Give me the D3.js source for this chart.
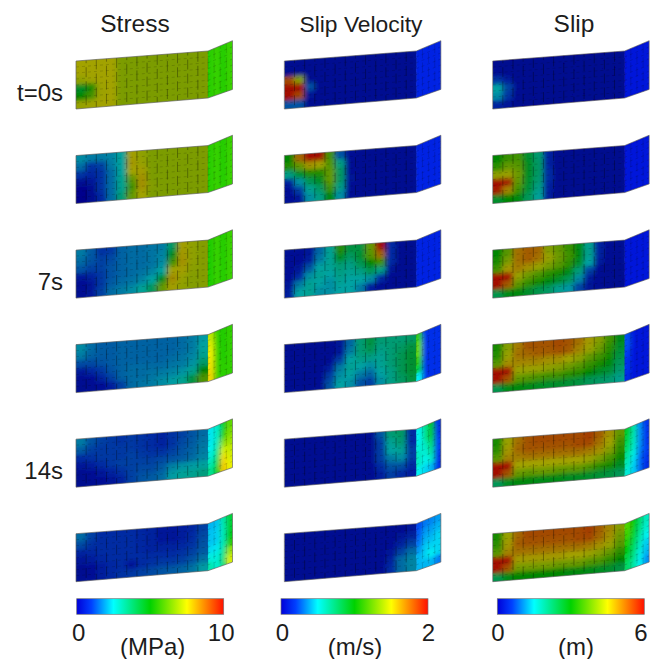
<!DOCTYPE html>
<meta charset="utf-8">
<style>
  body { margin: 0; background: #fff; }
  text { font-family: "Liberation Sans", Arial, sans-serif; fill: #1c1c1c; }
</style>

<!-- Load d3.js -->
<script src="https://d3js.org/d3.v7.min.js"></script>

<div id="my_dataviz"></div>

<script>

// column titles, row labels, colour bars
var titles = ["Stress", "Slip Velocity", "Slip"];
var units = ["(MPa)", "(m/s)", "(m)"];
var maxValues = [10, 2, 6];
var timeLabels = ["t=0s", "", "7s", "", "14s", ""];

// fault values, 6 rows down-dip, 17 columns along strike (13 main face + 4 bend face)
// stress, MPa
var stressT0 = [
  [7.5,7.5,7.5,7.5,6.9,6.9,6.9,6.9,6.9,6.9,6.9,6.9,6.9,5.4,5.6,5.3,5.6],
  [7.5,7.5,7.5,7.5,6.9,6.9,6.9,6.9,6.9,6.9,6.9,6.9,6.9,5.4,5.6,5.3,5.6],
  [7.2,7.4,7.5,7.5,6.9,6.9,6.9,6.9,6.9,6.9,6.9,6.9,6.9,5.4,5.6,5.3,5.6],
  [4.4,5.4,7.4,7.5,6.9,6.9,6.9,6.9,6.9,6.9,6.9,6.9,6.9,5.4,5.6,5.3,5.6],
  [5.0,6.0,7.4,7.5,6.9,6.9,6.9,6.9,6.9,6.9,6.9,6.9,6.9,5.4,5.6,5.3,5.6],
  [7.3,7.4,7.5,7.5,6.9,6.9,6.9,6.9,6.9,6.9,6.9,6.9,6.9,5.4,5.6,5.3,5.6]
];
var stressT1 = [
  [2.2,2.0,2.0,2.1,2.6,7.6,7.2,6.9,6.9,6.9,6.9,6.9,6.9,5.4,5.6,5.3,5.6],
  [1.8,1.1,1.3,2.0,2.6,7.7,7.3,6.9,6.9,6.9,6.9,6.9,6.9,5.4,5.6,5.3,5.6],
  [1.1,0.9,1.1,1.8,2.6,7.5,7.6,6.9,6.9,6.9,6.9,6.9,6.9,5.4,5.6,5.3,5.6],
  [0.3,0.5,1.1,1.8,2.8,6.5,7.8,6.9,6.9,6.9,6.9,6.9,6.9,5.4,5.6,5.3,5.6],
  [0.1,0.2,1.1,1.8,2.8,6.0,7.8,7.0,6.9,6.9,6.9,6.9,6.9,5.4,5.6,5.3,5.6],
  [0.0,0.2,0.9,1.8,3.2,6.5,7.5,6.9,6.9,6.9,6.9,6.9,6.9,5.4,5.6,5.3,5.6]
];
var stressT2 = [
  [2.0,1.6,1.1,1.2,1.7,1.8,1.8,1.9,2.0,3.5,7.6,7.2,7.0,5.3,5.6,5.3,5.6],
  [1.8,1.5,1.3,1.4,1.7,1.8,1.8,1.9,2.1,4.5,7.7,7.2,7.0,5.3,5.6,5.3,5.6],
  [1.5,1.3,1.3,1.5,1.7,1.8,1.8,1.9,2.2,6.0,7.8,7.2,7.0,5.3,5.6,5.3,5.6],
  [0.6,0.8,1.2,1.5,1.7,1.8,1.9,2.1,2.6,7.5,7.6,7.1,7.0,5.3,5.6,5.3,5.6],
  [0.3,0.5,1.2,1.6,1.8,1.9,2.1,2.5,4.5,7.9,7.3,7.0,7.0,5.3,5.6,5.3,5.6],
  [0.3,0.6,1.3,1.8,2.0,2.2,2.7,3.6,6.5,7.6,7.2,7.0,7.0,5.3,5.6,5.3,5.6]
];
var stressT3 = [
  [2.2,1.8,1.6,1.6,1.7,1.7,1.7,1.7,1.7,1.7,1.8,2.0,2.4,7.0,5.5,5.3,5.5],
  [2.0,1.7,1.6,1.6,1.7,1.7,1.7,1.7,1.7,1.7,1.8,2.0,2.6,7.3,5.5,5.3,5.5],
  [1.4,1.4,1.5,1.6,1.7,1.7,1.7,1.7,1.7,1.8,1.9,2.1,2.8,7.5,5.6,5.3,5.5],
  [0.6,0.9,1.2,1.5,1.7,1.8,1.8,1.8,1.8,1.9,2.0,2.3,3.4,7.6,5.6,5.3,5.5],
  [0.3,0.4,0.8,1.3,1.7,1.8,1.8,1.9,2.0,2.1,2.3,2.8,5.0,7.7,5.6,5.4,5.5],
  [0.2,0.3,0.4,0.7,1.3,1.8,1.9,2.0,2.2,2.4,2.8,4.0,6.2,7.8,5.6,5.4,5.5]
];
var stressT4 = [
  [2.0,1.5,1.3,1.2,1.1,1.2,1.1,1.0,0.8,1.1,1.3,1.5,1.8,2.4,2.9,4.6,6.0],
  [1.6,1.3,1.2,1.2,1.2,1.2,1.1,1.0,0.8,1.1,1.4,1.6,1.9,2.4,3.0,5.4,6.3],
  [1.0,1.1,1.2,1.2,1.2,1.3,1.2,1.1,1.1,1.3,1.5,1.7,2.0,2.5,3.2,6.4,6.6],
  [0.5,0.7,1.0,1.2,1.3,1.3,1.3,1.3,1.4,1.5,1.6,1.8,2.1,2.7,3.6,7.2,7.0],
  [0.2,0.4,0.6,0.8,1.1,1.3,1.4,1.4,1.6,2.1,2.3,2.4,2.6,3.1,4.0,7.8,7.2],
  [0.2,0.3,0.4,0.5,0.8,1.3,1.5,1.6,1.8,2.4,2.7,2.8,3.1,3.5,4.6,8.0,7.4]
];
var stressT5 = [
  [1.8,1.3,1.0,1.0,1.0,1.0,0.9,0.8,0.6,0.6,0.7,0.9,1.3,2.0,2.1,3.2,4.4],
  [1.4,1.1,1.0,1.0,1.0,1.0,0.9,0.8,0.6,0.5,0.7,1.0,1.4,2.1,2.2,3.1,4.5],
  [0.8,0.9,1.0,1.0,1.0,1.0,0.9,0.8,0.8,0.8,0.9,1.1,1.5,2.1,2.2,3.1,4.8],
  [0.5,0.7,0.9,1.0,1.0,1.0,1.0,1.0,1.0,1.0,1.1,1.3,1.6,2.3,2.4,3.2,5.4],
  [0.2,0.4,0.7,0.9,1.0,0.6,1.0,1.1,1.2,1.2,1.3,1.5,1.9,2.7,2.7,3.5,6.6],
  [0.3,0.4,0.7,0.9,1.1,1.2,1.3,1.4,1.5,1.6,1.7,1.9,2.4,3.2,2.8,3.8,7.2]
];

// slip velocity, m/s
var velocityT0 = [
  [0.05,0.05,0.05,0.05,0.05,0.05,0.05,0.05,0.05,0.05,0.05,0.05,0.05,0.12,0.12,0.12,0.12],
  [0.05,0.05,0.05,0.05,0.05,0.05,0.05,0.05,0.05,0.05,0.05,0.05,0.05,0.12,0.12,0.12,0.12],
  [1.80,1.40,0.05,0.05,0.05,0.05,0.05,0.05,0.05,0.05,0.05,0.05,0.05,0.12,0.12,0.12,0.12],
  [2.00,2.00,0.30,0.05,0.05,0.05,0.05,0.05,0.05,0.05,0.05,0.05,0.05,0.12,0.12,0.12,0.12],
  [2.00,1.80,0.10,0.05,0.05,0.05,0.05,0.05,0.05,0.05,0.05,0.05,0.05,0.12,0.12,0.12,0.12],
  [0.30,0.30,0.05,0.05,0.05,0.05,0.05,0.05,0.05,0.05,0.05,0.05,0.05,0.12,0.12,0.12,0.12]
];
var velocityT1 = [
  [1.00,1.70,2.00,2.00,1.20,0.30,0.08,0.05,0.05,0.05,0.05,0.05,0.05,0.12,0.12,0.12,0.12],
  [1.10,1.30,1.55,1.50,1.25,0.60,0.08,0.05,0.05,0.05,0.05,0.05,0.05,0.12,0.12,0.12,0.12],
  [0.60,0.85,1.10,1.10,1.30,0.70,0.08,0.05,0.05,0.05,0.05,0.05,0.05,0.12,0.12,0.12,0.12],
  [0.15,0.45,0.75,0.90,1.30,0.70,0.12,0.05,0.05,0.05,0.05,0.05,0.05,0.12,0.12,0.12,0.12],
  [0.08,0.25,0.55,0.70,1.20,0.60,0.08,0.05,0.05,0.05,0.05,0.05,0.05,0.12,0.12,0.12,0.12],
  [0.08,0.12,0.45,0.60,1.00,0.45,0.08,0.05,0.05,0.05,0.05,0.05,0.05,0.12,0.12,0.12,0.12]
];
var velocityT2 = [
  [0.08,0.08,0.12,0.35,0.55,1.10,0.80,0.80,1.30,2.00,0.20,0.05,0.05,0.12,0.12,0.12,0.12],
  [0.08,0.08,0.15,0.40,0.55,0.90,0.70,0.85,1.25,1.70,0.20,0.05,0.05,0.12,0.12,0.12,0.12],
  [0.08,0.12,0.30,0.50,0.55,0.65,0.60,0.75,1.00,1.20,0.20,0.05,0.05,0.12,0.12,0.12,0.12],
  [0.08,0.20,0.45,0.55,0.50,0.60,0.55,0.60,0.75,0.60,0.10,0.05,0.05,0.12,0.12,0.12,0.12],
  [0.10,0.40,0.55,0.50,0.45,0.55,0.50,0.50,0.45,0.20,0.06,0.05,0.05,0.12,0.12,0.12,0.12],
  [0.15,0.50,0.55,0.45,0.45,0.50,0.50,0.40,0.15,0.08,0.05,0.05,0.05,0.12,0.12,0.12,0.12]
];
var velocityT3 = [
  [0.05,0.05,0.05,0.05,0.05,0.10,0.35,0.65,0.80,0.65,0.65,0.65,0.70,1.10,0.15,0.15,0.15],
  [0.05,0.05,0.05,0.05,0.05,0.12,0.40,0.65,0.75,0.60,0.65,0.70,0.80,1.20,0.15,0.15,0.15],
  [0.05,0.05,0.05,0.05,0.08,0.25,0.50,0.60,0.60,0.55,0.65,0.75,0.85,1.20,0.15,0.15,0.15],
  [0.05,0.05,0.05,0.05,0.15,0.40,0.55,0.50,0.45,0.55,0.65,0.75,0.85,1.10,0.15,0.15,0.15],
  [0.05,0.05,0.05,0.08,0.25,0.45,0.50,0.40,0.35,0.50,0.60,0.75,0.85,0.90,0.15,0.15,0.15],
  [0.05,0.05,0.05,0.08,0.30,0.50,0.45,0.30,0.25,0.45,0.60,0.70,0.80,0.50,0.15,0.15,0.15]
];
var velocityT4 = [
  [0.05,0.05,0.05,0.05,0.05,0.05,0.05,0.05,0.05,0.30,0.65,0.70,0.20,0.50,0.70,1.00,0.15],
  [0.05,0.05,0.05,0.05,0.05,0.05,0.05,0.05,0.05,0.25,0.55,0.65,0.20,0.50,0.70,0.95,0.15],
  [0.05,0.05,0.05,0.05,0.05,0.05,0.05,0.05,0.05,0.25,0.50,0.55,0.25,0.55,0.60,0.80,0.20],
  [0.05,0.05,0.05,0.05,0.05,0.05,0.05,0.05,0.05,0.25,0.40,0.45,0.25,0.60,0.55,0.70,0.20],
  [0.05,0.05,0.05,0.05,0.05,0.05,0.05,0.05,0.05,0.20,0.30,0.30,0.20,0.60,0.50,0.60,0.15],
  [0.05,0.05,0.05,0.05,0.05,0.05,0.05,0.05,0.05,0.15,0.25,0.20,0.15,0.50,0.45,0.40,0.15]
];
var velocityT5 = [
  [0.05,0.05,0.05,0.05,0.05,0.05,0.05,0.05,0.05,0.05,0.05,0.05,0.10,0.22,0.30,0.32,0.36],
  [0.05,0.05,0.05,0.05,0.05,0.05,0.05,0.05,0.05,0.05,0.05,0.10,0.16,0.25,0.36,0.36,0.40],
  [0.05,0.05,0.05,0.05,0.05,0.05,0.05,0.05,0.05,0.05,0.08,0.16,0.26,0.28,0.40,0.40,0.45],
  [0.05,0.05,0.05,0.05,0.05,0.05,0.05,0.05,0.05,0.05,0.12,0.26,0.36,0.34,0.44,0.45,0.45],
  [0.05,0.05,0.05,0.05,0.05,0.05,0.05,0.05,0.05,0.05,0.16,0.36,0.42,0.40,0.45,0.50,0.45],
  [0.05,0.05,0.05,0.05,0.05,0.05,0.05,0.05,0.05,0.05,0.20,0.36,0.42,0.40,0.40,0.40,0.30]
];

// slip, m
var slipT0 = [
  [0.1,0.1,0.1,0.1,0.1,0.1,0.1,0.1,0.1,0.1,0.1,0.1,0.1,0.2,0.2,0.2,0.2],
  [0.2,0.1,0.1,0.1,0.1,0.1,0.1,0.1,0.1,0.1,0.1,0.1,0.1,0.2,0.2,0.2,0.2],
  [0.7,0.4,0.1,0.1,0.1,0.1,0.1,0.1,0.1,0.1,0.1,0.1,0.1,0.2,0.2,0.2,0.2],
  [1.5,0.8,0.2,0.1,0.1,0.1,0.1,0.1,0.1,0.1,0.1,0.1,0.1,0.2,0.2,0.2,0.2],
  [1.3,0.7,0.2,0.1,0.1,0.1,0.1,0.1,0.1,0.1,0.1,0.1,0.1,0.2,0.2,0.2,0.2],
  [0.5,0.3,0.1,0.1,0.1,0.1,0.1,0.1,0.1,0.1,0.1,0.1,0.1,0.2,0.2,0.2,0.2]
];
var slipT1 = [
  [3.0,3.5,3.6,2.6,2.0,0.5,0.1,0.1,0.1,0.1,0.1,0.1,0.1,0.2,0.2,0.2,0.2],
  [3.4,3.9,3.8,2.7,2.1,0.5,0.1,0.1,0.1,0.1,0.1,0.1,0.1,0.2,0.2,0.2,0.2],
  [4.3,4.4,4.0,2.7,2.1,0.6,0.1,0.1,0.1,0.1,0.1,0.1,0.1,0.2,0.2,0.2,0.2],
  [6.0,5.8,3.9,2.6,2.0,0.6,0.1,0.1,0.1,0.1,0.1,0.1,0.1,0.2,0.2,0.2,0.2],
  [5.8,4.8,3.6,2.5,1.8,0.5,0.1,0.1,0.1,0.1,0.1,0.1,0.1,0.2,0.2,0.2,0.2],
  [2.6,3.0,2.9,2.2,1.6,0.4,0.1,0.1,0.1,0.1,0.1,0.1,0.1,0.2,0.2,0.2,0.2]
];
var slipT2 = [
  [3.0,3.8,5.0,5.2,5.1,4.2,3.9,3.5,2.9,1.7,0.5,0.2,0.2,0.2,0.2,0.2,0.2],
  [3.2,4.1,5.0,5.2,5.0,4.4,4.0,3.6,2.9,1.7,0.5,0.2,0.2,0.2,0.2,0.2,0.2],
  [3.6,4.6,4.9,4.7,4.4,4.1,3.8,3.4,2.6,1.5,0.4,0.2,0.2,0.2,0.2,0.2,0.2],
  [6.0,6.0,4.4,4.0,3.7,3.4,3.2,2.8,1.9,0.8,0.2,0.1,0.1,0.2,0.2,0.2,0.2],
  [6.0,5.2,3.9,3.5,3.2,2.9,2.6,2.2,1.3,0.4,0.2,0.1,0.1,0.2,0.2,0.2,0.2],
  [2.3,2.8,2.9,2.6,2.3,2.1,1.7,1.4,0.8,0.3,0.2,0.1,0.1,0.2,0.2,0.2,0.2]
];
var slipT3 = [
  [3.2,4.2,4.9,5.3,5.3,5.3,5.4,5.3,5.0,4.6,4.2,3.6,2.8,0.7,0.2,0.2,0.2],
  [3.3,4.4,5.0,5.1,5.2,5.2,5.3,5.2,4.8,4.4,4.0,3.4,2.6,0.7,0.2,0.2,0.2],
  [3.8,4.7,4.8,4.8,4.8,4.7,4.7,4.5,4.3,3.9,3.6,3.2,2.4,0.6,0.2,0.2,0.2],
  [6.0,6.0,4.4,4.4,4.4,4.3,4.2,4.0,3.8,3.5,3.2,2.9,2.2,0.5,0.2,0.2,0.2],
  [6.0,5.3,3.9,3.8,3.7,3.6,3.6,3.4,3.3,3.0,2.7,2.5,2.0,0.5,0.2,0.2,0.2],
  [2.3,2.8,2.9,2.8,2.7,2.6,2.6,2.5,2.4,2.2,2.1,2.0,1.7,0.4,0.2,0.2,0.2]
];
var slipT4 = [
  [3.2,4.4,5.0,5.3,5.4,5.4,5.4,5.4,5.4,5.5,5.2,4.7,3.9,2.8,2.0,1.0,0.5],
  [3.4,4.6,5.1,5.3,5.3,5.3,5.3,5.3,5.4,5.4,5.0,4.5,3.6,2.6,1.9,1.0,0.5],
  [3.8,4.8,4.9,5.0,5.0,5.0,5.0,5.0,5.0,4.9,4.7,4.2,3.4,2.4,1.8,1.0,0.5],
  [6.0,6.0,4.5,4.5,4.5,4.5,4.5,4.5,4.5,4.4,4.1,3.7,3.1,2.1,1.6,0.9,0.6],
  [6.0,5.3,4.0,3.9,4.0,4.0,3.9,3.9,3.9,3.7,3.4,3.2,2.7,1.9,1.4,0.8,0.5],
  [2.2,2.7,2.9,2.9,2.8,2.8,2.8,2.7,2.7,2.6,2.5,2.4,2.2,1.7,1.3,0.8,0.4]
];
var slipT5 = [
  [3.2,4.4,5.1,5.4,5.4,5.4,5.4,5.4,5.4,5.5,5.2,4.8,4.2,3.5,3.0,2.4,1.8],
  [3.4,4.6,5.2,5.3,5.3,5.3,5.3,5.3,5.4,5.4,5.1,4.7,4.0,3.4,2.8,2.2,1.7],
  [3.8,4.8,5.0,5.0,5.0,5.0,5.0,5.0,5.0,4.9,4.7,4.4,3.8,3.2,2.6,2.0,1.5],
  [6.0,6.0,4.6,4.6,4.6,4.6,4.6,4.5,4.5,4.4,4.2,3.9,3.4,3.0,2.4,1.8,1.3],
  [6.0,5.3,4.1,4.1,4.1,4.1,4.0,4.0,4.0,3.8,3.7,3.4,3.0,2.6,2.2,1.6,1.2],
  [2.3,2.8,3.0,3.0,3.0,3.0,3.0,2.9,2.9,2.8,2.7,2.6,2.4,2.4,2.0,1.5,1.0]
];

var fields = [
  [stressT0, stressT1, stressT2, stressT3, stressT4, stressT5],
  [velocityT0, velocityT1, velocityT2, velocityT3, velocityT4, velocityT5],
  [slipT0, slipT1, slipT2, slipT3, slipT4, slipT5]
];

// jet-like colour ramp, fraction of the colour bar -> colour
var rampStops = [0, 0.1, 0.25, 0.5, 0.75, 1];
var rampColors = ["#0000d8", "#0040ff", "#00ffff", "#00d200", "#ffff00", "#ff1000"];

var width = 659, height = 659;
var nCols = 17, nMain = 13, nRows = 6, nMeshRows = 8;
var mainLight = 0.64, bendLight = 0.95;

var svg = d3.select("#my_dataviz")
  .append("svg")
    .attr("width", width)
    .attr("height", height)
    .style("display", "block");

var defs = svg.append("defs");
defs.append("filter")
    .attr("id", "soften")
    .attr("x", "-10%").attr("y", "-20%").attr("width", "120%").attr("height", "140%")
  .append("feGaussianBlur")
    .attr("stdDeviation", "2.6 2");
defs.append("filter")
    .attr("id", "soften-mesh")
  .append("feGaussianBlur")
    .attr("stdDeviation", 0.3);

var ramp = d3.scaleLinear().domain(rampStops).range(rampColors).interpolate(d3.interpolateRgb);

// panel layout
var panelX = d3.scaleLinear().domain([0, 2]).range([76, 492.7]);
var panelY = d3.scaleLinear().domain([0, 5]).range([61, 533.7]);

// column index -> position inside a panel, the fault bends at nMain
var alongX = d3.scaleLinear().domain([0, nMain, nCols]).range([0, 132, 156.5]);
var topY = d3.scaleLinear().domain([0, nMain, nCols]).range([0, -10, -20.3]);
var bottomY = d3.scaleLinear().domain([0, nMain, nCols]).range([48, 37, 28.4]);

function faultPoint(c, r) {
  // r runs from 0 (top edge) to 1 (bottom edge)
  return [alongX(c), topY(c) + r * (bottomY(c) - topY(c))];
}

var line = d3.line();
var outline = [faultPoint(0, 0), faultPoint(nMain, 0), faultPoint(nCols, 0),
               faultPoint(nCols, 1), faultPoint(nMain, 1), faultPoint(0, 1)];
var mainOutline = [faultPoint(0, 0), faultPoint(nMain, 0), faultPoint(nMain, 1), faultPoint(0, 1)];
var bendOutline = [faultPoint(nMain, 0), faultPoint(nCols, 0), faultPoint(nCols, 1), faultPoint(nMain, 1)];

defs.append("clipPath").attr("id", "main-clip")
  .append("path").attr("d", line(mainOutline) + "Z");
defs.append("clipPath").attr("id", "bend-clip")
  .append("path").attr("d", line(bendOutline) + "Z");
defs.append("clipPath").attr("id", "fault-clip")
  .append("path").attr("d", line(outline) + "Z");

fields.forEach(function(columnPanels, ci) {
  var colour = d3.scaleLinear().domain([0, maxValues[ci]]).range([0, 1]);

  columnPanels.forEach(function(values, ri) {
    var g = svg.append("g")
        .attr("transform", "translate(" + panelX(ci) + "," + panelY(ri) + ")");

    var cells = [];
    values.forEach(function(row, r) {
      row.forEach(function(v, c) {
        cells.push({c: c, r: r, v: v});
      });
    });

    function cellPath(d) {
      return line([faultPoint(d.c, d.r / nRows), faultPoint(d.c + 1, d.r / nRows),
                   faultPoint(d.c + 1, (d.r + 1) / nRows), faultPoint(d.c, (d.r + 1) / nRows)]) + "Z";
    }
    function cellFill(d) {
      var col = d3.rgb(ramp(colour(d.v)));
      var k = d.c < nMain ? mainLight : bendLight;
      return d3.rgb(col.r * k, col.g * k, col.b * k);
    }

    var clipped = g.append("g").attr("clip-path", "url(#fault-clip)");

    // sharp copy underneath so that the blurred one does not fade out at the edges
    clipped.append("g").selectAll("path")
      .data(cells).enter().append("path")
        .attr("d", cellPath)
        .attr("fill", cellFill)
        .attr("stroke", cellFill)
        .attr("stroke-width", 0.5);

    // main face and bend face are blurred apart, the colour break at the bend stays
    [["main-clip", function(d) { return d.c < nMain; }],
     ["bend-clip", function(d) { return d.c >= nMain; }]].forEach(function(face) {
      clipped.append("g")
          .attr("clip-path", "url(#" + face[0] + ")")
        .append("g")
          .attr("filter", "url(#soften)")
        .selectAll("path")
        .data(cells).enter().append("path")
          .attr("d", cellPath)
          .attr("fill", cellFill)
          .attr("stroke", cellFill)
          .attr("stroke-width", 0.5)
          .attr("display", function(d) { return face[1](d) ? null : "none"; });
    });

    // element mesh
    var mesh = clipped.append("g").attr("filter", "url(#soften-mesh)");
    d3.range(1, nCols).forEach(function(c) {
      mesh.append("path")
        .attr("d", line([faultPoint(c, 0), faultPoint(c, 1)]))
        .attr("fill", "none")
        .attr("stroke", "#000")
        .attr("stroke-opacity", c < nMain ? 0.42 : 0.18)
        .attr("stroke-width", 0.8)
        .attr("stroke-dasharray", "10 4")
        .attr("stroke-dashoffset", c * 7);
    });
    d3.range(1, nMeshRows).forEach(function(r) {
      mesh.append("path")
        .attr("d", line(d3.range(0, nCols + 1).map(function(c) { return faultPoint(c, r / nMeshRows); })))
        .attr("fill", "none")
        .attr("stroke", "#000")
        .attr("stroke-opacity", 0.22)
        .attr("stroke-width", 0.7)
        .attr("stroke-dasharray", "3 3");
    });

    g.append("path")
      .attr("d", line(outline) + "Z")
      .attr("fill", "none")
      .attr("stroke", "#666")
      .attr("stroke-width", 0.7);
  });
});

// column titles
var titleX = [135, 361, 574];
var titleSize = [24.5, 22.8, 24.5];
svg.selectAll(".title")
  .data(titles)
  .enter().append("text")
    .attr("x", function(d, i) { return titleX[i]; })
    .attr("y", 32)
    .attr("text-anchor", "middle")
    .style("font-size", function(d, i) { return titleSize[i] + "px"; })
    .text(function(d) { return d; });

// time labels
svg.selectAll(".time")
  .data(timeLabels)
  .enter().append("text")
    .attr("x", 63)
    .attr("y", function(d, i) { return panelY(i) + 40; })
    .attr("text-anchor", "end")
    .style("font-size", "24px")
    .text(function(d) { return d; });

// colour bars
var grad = defs.append("linearGradient").attr("id", "ramp-grad");
rampStops.forEach(function(s, i) {
  grad.append("stop").attr("offset", s).attr("stop-color", rampColors[i]);
});

var barX = [76.7, 281, 497.3];
var barWidth = 147, barTop = 598.7, barHeight = 15.6;
var unitX = [152.7, 355, 576];
var tickNudge = [[1.5, -3], [1, 0], [0, -4]];

maxValues.forEach(function(maxV, i) {
  var x = d3.scaleLinear().domain([0, maxV]).range([barX[i], barX[i] + barWidth]);

  svg.append("rect")
    .attr("x", barX[i])
    .attr("y", barTop)
    .attr("width", barWidth)
    .attr("height", barHeight)
    .attr("fill", "url(#ramp-grad)")
    .attr("stroke", "#777")
    .attr("stroke-width", 0.7);

  var axis = svg.append("g")
    .attr("transform", "translate(0," + (barTop + barHeight) + ")")
    .call(d3.axisBottom(x).tickValues([0, maxV]).tickSize(0).tickPadding(9.5).tickFormat(d3.format("d")));
  axis.select(".domain").remove();
  axis.selectAll("text")
    .attr("dx", function(d, j) { return tickNudge[i][j]; })
    .style("font-family", '"Liberation Sans", Arial, sans-serif')
    .style("font-size", "24px")
    .style("fill", "#1c1c1c");

  svg.append("text")
    .attr("x", unitX[i])
    .attr("y", 655)
    .attr("text-anchor", "middle")
    .style("font-size", "24px")
    .text(units[i]);
});

</script>
